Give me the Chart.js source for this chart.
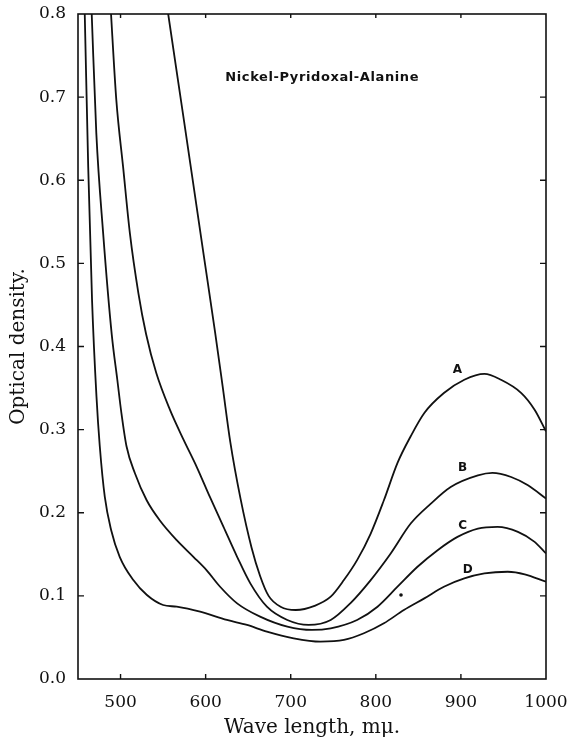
<!DOCTYPE html>
<html>
<head>
<meta charset="utf-8">
<script src="https://cdn.jsdelivr.net/npm/chart.js@4.4.1/dist/chart.umd.min.js"></script>
<style>
  html, body { margin: 0; padding: 0; background: #fff; }
  #wrap { width: 570px; height: 746px; position: relative; }
</style>
</head>
<body>
<div id="wrap"><canvas id="c" width="570" height="746"></canvas></div>
<script>
// ---- Data ----
const xTicks = [500, 600, 700, 800, 900, 1000];
const yTicks = [0.0, 0.1, 0.2, 0.3, 0.4, 0.5, 0.6, 0.7, 0.8];
const seriesNames = ['A', 'B', 'C', 'D'];

const waveA = [551.7, 556, 570, 584, 597, 611, 620, 629, 641, 654, 664, 674, 688, 706, 728, 747, 762.5, 778, 794, 809.5, 825.5, 841, 857, 880, 904, 927.6, 947, 971, 986.6, 1000];
const odA   = [0.83, 0.80, 0.703, 0.606, 0.515, 0.418, 0.352, 0.285, 0.217, 0.158, 0.124, 0.100, 0.087, 0.083, 0.088, 0.099, 0.119, 0.143, 0.175, 0.215, 0.26, 0.292, 0.32, 0.344, 0.36, 0.367, 0.36, 0.344, 0.324, 0.298];

const waveB = [487.2, 489, 495, 503, 511, 521, 530, 542, 558, 574, 589.6, 605, 621, 637, 652.5, 672, 696, 721, 747, 770, 794, 817.5, 841, 864.7, 888, 920, 937, 959, 978.8, 1000];
const odB   = [0.83, 0.797, 0.697, 0.616, 0.536, 0.464, 0.415, 0.368, 0.324, 0.288, 0.255, 0.219, 0.183, 0.147, 0.115, 0.087, 0.071, 0.065, 0.071, 0.091, 0.119, 0.151, 0.187, 0.211, 0.231, 0.245, 0.248, 0.243, 0.233, 0.217];

const waveC = [465.0, 466.2, 471.5, 479.5, 489.7, 496.2, 501, 507, 516.9, 530.7, 546, 566, 585.6, 601, 617, 637, 664, 696, 725, 747, 778, 802, 825.5, 849, 872.6, 896, 920, 943, 967, 986.6, 1000];
const odC   = [0.83, 0.798, 0.657, 0.537, 0.414, 0.36, 0.32, 0.28, 0.2475, 0.215, 0.191, 0.167, 0.147, 0.131, 0.111, 0.091, 0.075, 0.063, 0.059, 0.061, 0.071, 0.087, 0.111, 0.135, 0.155, 0.171, 0.181, 0.183, 0.177, 0.165, 0.151];

const waveD = [457, 458, 462, 466.5, 471.7, 475.6, 481.5, 489, 499, 515, 531, 550, 566, 593.5, 625, 648.6, 672, 703.5, 735, 762.5, 786, 809.5, 833, 857, 880, 904, 927.6, 955, 975, 1000];
const odD   = [0.84, 0.797, 0.616, 0.456, 0.34, 0.28, 0.219, 0.179, 0.147, 0.119, 0.101, 0.089, 0.087, 0.081, 0.071, 0.065, 0.057, 0.049, 0.045, 0.047, 0.055, 0.067, 0.083, 0.097, 0.111, 0.121, 0.127, 0.129, 0.126, 0.117];

const dotWave = [829.6];
const dotOD   = [0.101];

const chartTitle = 'Nickel-Pyridoxal-Alanine';
const xTitle = 'Wave length, m\u03BC.';
const yTitle = 'Optical density.';

// ---- Build datasets ----
function pts(xs, ys) { return xs.map((x, i) => ({ x: x, y: ys[i] })); }
const curves = [pts(waveA, odA), pts(waveB, odB), pts(waveC, odC), pts(waveD, odD)];

const datasets = curves.map((d, i) => ({
  label: seriesNames[i],
  data: d,
  borderColor: '#111',
  borderWidth: 1.8,
  pointRadius: 0,
  fill: false,
  cubicInterpolationMode: 'monotone',
  showLine: true
}));
datasets.push({
  label: 'dot',
  data: pts(dotWave, dotOD),
  showLine: false,
  pointRadius: 1.8,
  pointBackgroundColor: '#111',
  pointBorderWidth: 0
});

// Annotation positions (data coordinates)
const labelPos = [
  { text: 'A', x: 896, y: 0.372 },
  { text: 'B', x: 902, y: 0.254 },
  { text: 'C', x: 902, y: 0.184 },
  { text: 'D', x: 908, y: 0.131 }
];
const titlePos = { x: 737, y: 0.723 };

const framePlugin = {
  id: 'frame',
  afterDatasetsDraw(chart) {
    const { ctx, chartArea: a, scales: { x, y } } = chart;
    ctx.save();
    ctx.strokeStyle = '#111';
    ctx.lineWidth = 1.6;
    ctx.strokeRect(a.left, a.top, a.right - a.left, a.bottom - a.top);
    ctx.lineWidth = 1.4;
    ctx.beginPath();
    xTicks.forEach(v => {
      const px = x.getPixelForValue(v);
      if (px > a.left + 2 && px < a.right - 2) {
        ctx.moveTo(px, a.bottom); ctx.lineTo(px, a.bottom - 5);
        ctx.moveTo(px, a.top); ctx.lineTo(px, a.top + 4);
      }
    });
    yTicks.forEach(v => {
      const py = y.getPixelForValue(v);
      if (py > a.top + 2 && py < a.bottom - 2) {
        ctx.moveTo(a.left, py); ctx.lineTo(a.left + 6, py);
        ctx.moveTo(a.right, py); ctx.lineTo(a.right - 6, py);
      }
    });
    ctx.stroke();

    // title annotation
    ctx.fillStyle = '#111';
    ctx.textAlign = 'center';
    ctx.textBaseline = 'middle';
    ctx.font = 'bold 13px "DejaVu Sans"';
    try { ctx.letterSpacing = '0.6px'; } catch (e) {}
    ctx.fillText(chartTitle, x.getPixelForValue(titlePos.x), y.getPixelForValue(titlePos.y));
    try { ctx.letterSpacing = '0px'; } catch (e) {}
    ctx.font = 'bold 12px "DejaVu Sans"';
    labelPos.forEach(l => {
      ctx.fillText(l.text, x.getPixelForValue(l.x), y.getPixelForValue(l.y));
    });
    ctx.restore();
  }
};

new Chart(document.getElementById('c'), {
  type: 'scatter',
  data: { datasets: datasets },
  options: {
    responsive: false,
    animation: false,
    devicePixelRatio: 1,
    layout: { padding: { left: 0, right: 24, top: 14, bottom: 0 } },
    plugins: { legend: { display: false }, tooltip: { enabled: false } },
    scales: {
      x: {
        type: 'linear',
        min: 450,
        max: 1000,
        afterBuildTicks: s => { s.ticks = xTicks.map(v => ({ value: v })); },
        afterFit: s => { s.height = 67; s.paddingLeft = 0; s.paddingRight = 0; },
        grid: { display: false, drawTicks: false },
        border: { display: false },
        ticks: {
          color: '#111',
          padding: 13,
          maxRotation: 0,
          font: { family: '"DejaVu Serif"', size: 17 },
          callback: v => String(v)
        },
        title: {
          display: true,
          text: xTitle,
          color: '#111',
          font: { family: '"DejaVu Serif"', size: 20 },
          padding: { top: 0, bottom: 6 }
        }
      },
      y: {
        type: 'linear',
        min: 0,
        max: 0.8,
        afterBuildTicks: s => { s.ticks = yTicks.map(v => ({ value: v })); },
        afterFit: s => { s.width = 78; s.paddingTop = 0; s.paddingBottom = 0; },
        grid: { display: false, drawTicks: false },
        border: { display: false },
        ticks: {
          color: '#111',
          padding: 12,
          font: { family: '"DejaVu Serif"', size: 17 },
          callback: v => Number(v).toFixed(1)
        },
        title: {
          display: true,
          text: yTitle,
          color: '#111',
          font: { family: '"DejaVu Serif"', size: 20 },
          padding: { top: 7, bottom: 0 }
        }
      }
    }
  },
  plugins: [framePlugin]
});
</script>
</body>
</html>
